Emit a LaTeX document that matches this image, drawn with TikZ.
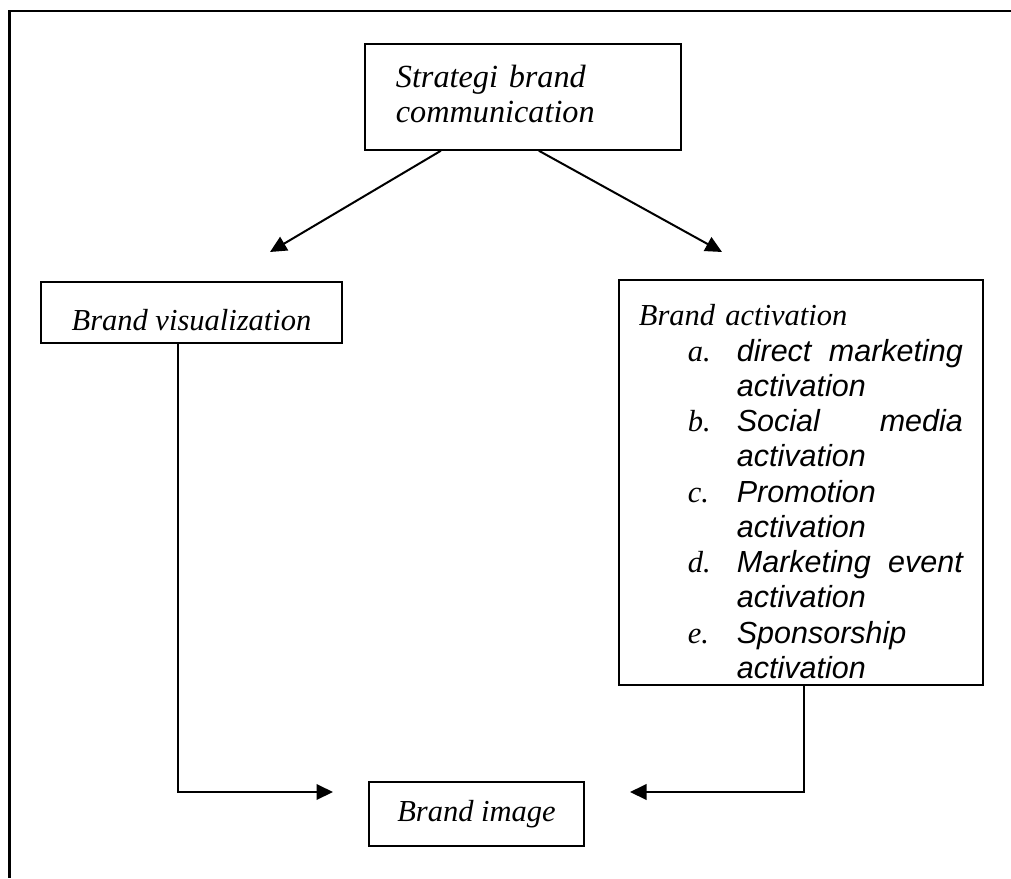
\documentclass[tikz,border=0pt]{standalone}
\usepackage{fontspec}
\setmainfont{Liberation Serif}
\newfontfamily\itemfont{Liberation Sans}
\usetikzlibrary{arrows.meta}

\begin{document}
\begin{tikzpicture}[x=0.4pt, y=-0.4pt,
        box/.style={draw, line width=0.7pt, inner sep=0pt},
        arr/.style={-{Triangle[length=6.6pt, width=6.2pt]}, line width=0.8pt},
        every node/.style={font=\fontsize{12.2}{14.1}\selectfont\itshape}]
        \useasboundingbox (0,0) rectangle (1011,878);
        \draw[line width=1pt] (1011,11) -- (9.5,11) -- (9.5,878);

        \node[box, anchor=north west, minimum width=126.4pt, minimum height=42.4pt,
            text width=101.6pt, inner xsep=12.4pt, align=left,
            font=\fontsize{12.9}{14}\selectfont\itshape] (strat) at (364,43)
            {Strategi brand\\ communication\rule[-2.8pt]{0pt}{2.8pt}};
        \node[box, minimum width=120.4pt, minimum height=24.4pt,
            text height=14pt, text depth=0pt] (vis) at (191.5,312.5) {Brand visualization};
        \node[box, anchor=north west, minimum width=145.6pt, minimum height=162pt,
            text width=129.6pt, inner xsep=8pt, align=left] (act) at (618,279)
            {\rule{0pt}{16pt}Brand activation\\
            \hspace*{19.6pt}\makebox[19.6pt][l]{a.}\makebox[90.4pt][l]{\itemfont direct\hfill marketing}\\
            \hspace*{39.2pt}{\itemfont activation}\\
            \hspace*{19.6pt}\makebox[19.6pt][l]{b.}\makebox[90.4pt][l]{\itemfont Social\hfill media}\\
            \hspace*{39.2pt}{\itemfont activation}\\
            \hspace*{19.6pt}\makebox[19.6pt][l]{c.}{\itemfont Promotion}\\
            \hspace*{39.2pt}{\itemfont activation}\\
            \hspace*{19.6pt}\makebox[19.6pt][l]{d.}\makebox[90.4pt][l]{\itemfont Marketing\hfill event}\\
            \hspace*{39.2pt}{\itemfont activation}\\
            \hspace*{19.6pt}\makebox[19.6pt][l]{e.}{\itemfont Sponsorship}\\
            \hspace*{39.2pt}{\itemfont activation}};
        \node[box, minimum width=86pt, minimum height=25.6pt] (img) at (476.5,814) {Brand image};

        \coordinate (vistip) at (270,252);
        \coordinate (acttip) at (722,252);
        \coordinate (imgl) at (333,792);
        \coordinate (imgr) at (630,792);

        \draw[arr] ([xshift=-32.8pt]strat.south) -- (vistip);
        \draw[arr] ([xshift=6.4pt]strat.south) -- (acttip);
        \draw[arr] ([xshift=-5.4pt]vis.south) |- (imgl);
        \draw[arr] ([xshift=1.2pt]act.south) |- (imgr);
    \end{tikzpicture}
\end{document}
